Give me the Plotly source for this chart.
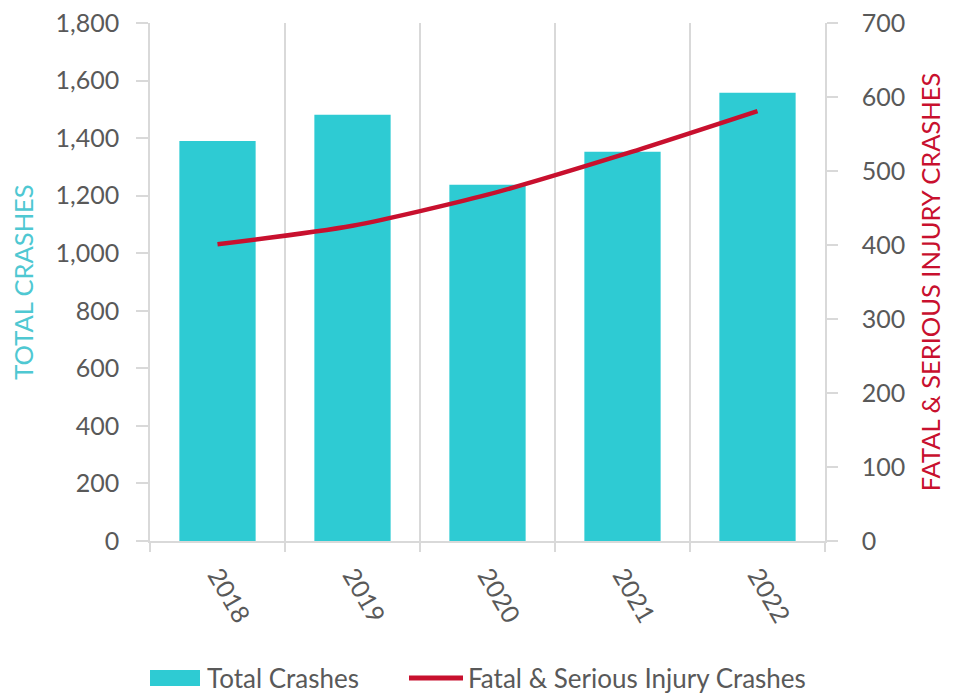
import plotly.graph_objects as go

years = ["2018", "2019", "2020", "2021", "2022"]
total_crashes = [1390, 1481, 1238, 1353, 1558]
fatal_serious = [401, 426, 468, 522, 581]

TEAL = "#2ECBD3"
RED = "#C8102E"
GRID = "#D9D9D9"
TXT = "#595959"
FONT = "Lato"

OFF = 8  # page body margin
W, H = 954 - OFF, 693 - OFF
ML, MT = 150 - OFF, 23 - OFF
PW, PH = 675, 518
MR, MB = W - ML - PW, H - MT - PH


def px_x(px):
    return (px - OFF - ML) / PW


def px_y(py):
    return (MT + PH - (py - OFF)) / PH


fig = go.Figure()
fig.add_trace(go.Bar(
    x=years, y=total_crashes, name="Total Crashes",
    marker=dict(color=TEAL, line=dict(width=0)), width=0.565, yaxis="y",
    showlegend=False,
))
fig.add_trace(go.Scatter(
    x=years, y=fatal_serious, name="Fatal & Serious Injury Crashes",
    mode="lines", line=dict(color=RED, width=4.5, shape="spline", smoothing=0.7),
    yaxis="y2", showlegend=False,
))

# legend drawn below the plot
leg_y = px_y(678)
shapes = [
    dict(type="rect", xref="paper", yref="paper", x0=px_x(150), x1=px_x(200),
         y0=px_y(686), y1=px_y(670), fillcolor=TEAL, line=dict(width=0)),
    dict(type="line", xref="paper", yref="paper", x0=px_x(409), x1=px_x(463),
         y0=leg_y, y1=leg_y, line=dict(color=RED, width=5)),
]
annotations = [
    dict(text="Total Crashes", xref="paper", yref="paper", x=px_x(205), y=leg_y,
         xanchor="left", yanchor="middle", showarrow=False,
         font=dict(size=26, color=TXT, family=FONT)),
    dict(text="Fatal & Serious Injury Crashes", xref="paper", yref="paper", x=px_x(466), y=leg_y,
         xanchor="left", yanchor="middle", showarrow=False,
         font=dict(size=26, color=TXT, family=FONT)),
]

fig.update_layout(
    width=W, height=H,
    margin=dict(l=ML, r=MR, t=MT, b=MB),
    paper_bgcolor="white", plot_bgcolor="white",
    font=dict(family=FONT, color=TXT, size=25),
    showlegend=False,
    shapes=shapes, annotations=annotations,
    bargap=0.435,
    xaxis=dict(
        type="category", tickson="boundaries", showgrid=True, gridcolor=GRID, gridwidth=1.5,
        showline=True, linecolor=GRID, linewidth=2,
        ticks="outside", ticklen=9, tickcolor=GRID, tickwidth=1.5,
        tickangle=60, tickfont=dict(size=25, color=TXT), zeroline=False,
        ticklabelstandoff=8, automargin=False, ticklabeloverflow="allow",
    ),
    yaxis=dict(
        range=[0, 1800], tickvals=list(range(0, 1801, 200)), tickformat=",",
        showgrid=False, zeroline=False,
        showline=True, linecolor=GRID, linewidth=1.5,
        ticks="outside", ticklen=12, tickcolor=GRID, tickwidth=1.5,
        tickfont=dict(size=25, color=TXT), ticklabelstandoff=12,
        ticklabeloverflow="allow",
        title=dict(text="TOTAL CRASHES", font=dict(size=25.5, color="#4FC8D2"), standoff=17),
        automargin=False,
    ),
    yaxis2=dict(
        range=[0, 700], tickvals=list(range(0, 701, 100)),
        overlaying="y", side="right",
        showgrid=False, zeroline=False,
        showline=True, linecolor=GRID, linewidth=1.5,
        ticks="outside", ticklen=11, tickcolor=GRID, tickwidth=1.5,
        tickfont=dict(size=25, color=TXT), ticklabelstandoff=19,
        ticklabeloverflow="allow",
        title=dict(text="FATAL & SERIOUS INJURY CRASHES", font=dict(size=25.5, color=RED), standoff=18),
        automargin=False,
    ),
)

fig.write_html("out.html")
